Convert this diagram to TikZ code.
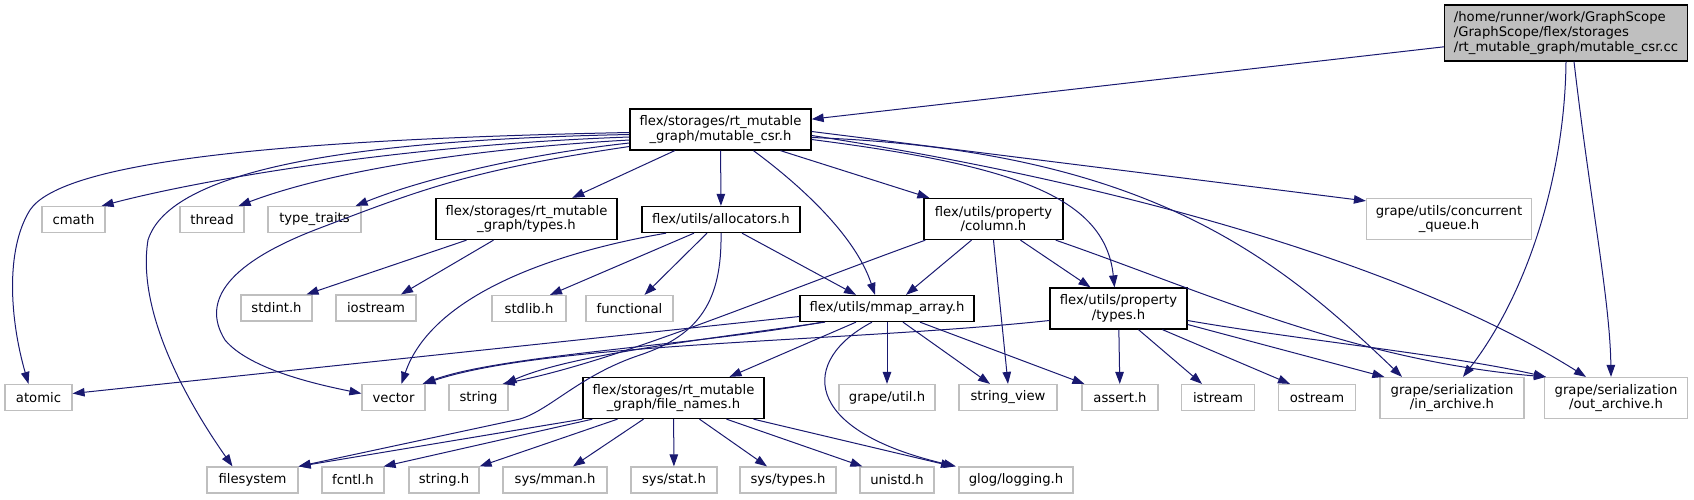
\documentclass[tikz,border=0pt]{standalone}
\usepackage{fontspec}
\setmainfont{DejaVu Sans}
\usepackage{tikz}
\usetikzlibrary{arrows.meta}
\usepackage{xcolor}
\definecolor{edgeblue}{RGB}{25,25,112}
\definecolor{grey75}{RGB}{191,191,191}

\begin{document}
\begin{tikzpicture}[x=1pt, y=-1pt, >={Triangle[length=12pt,width=8.5pt]},
  font=\fontsize{13.2}{14.7}\selectfont]
  \tikzstyle{hdr}=[rectangle, draw=black, line width=1.3pt, inner sep=2pt, align=center]
  \tikzstyle{sys}=[rectangle, draw=grey75, line width=1.2pt, inner sep=2pt, align=center]
  \tikzstyle{root}=[rectangle, draw=black, fill=grey75, line width=1.3pt, inner sep=2pt, align=left]
  \tikzstyle{dep}=[->, draw=edgeblue, line width=1pt]
  \useasboundingbox (0,0) rectangle (1694,499);

  % row 1
  \node[root, minimum width=243pt, minimum height=56pt] (cc) at (1566,33) {/home/runner/work/GraphScope\\/GraphScope/flex/storages\\/rt\_mutable\_graph/mutable\_csr.cc};
  \node[hdr, minimum width=181pt, minimum height=41pt] (csr) at (720.5,129.5) {flex/storages/rt\_mutable\\\_graph/mutable\_csr.h};
  % row 2
  \node[sys, minimum width=63pt, minimum height=26pt] (cmath) at (73.5,219.5) {cmath};
  \node[sys, minimum width=64pt, minimum height=26pt] (thread) at (212,219.5) {thread};
  \node[sys, minimum width=93pt, minimum height=26pt] (typetraits) at (314.5,219.5) {type\_traits};
  \node[hdr, minimum width=181pt, minimum height=41pt] (rtypes) at (526.5,219) {flex/storages/rt\_mutable\\\_graph/types.h};
  \node[hdr, minimum width=158pt, minimum height=26pt] (alloc) at (721,219.5) {flex/utils/allocators.h};
  \node[hdr, minimum width=139pt, minimum height=41pt] (column) at (993.5,219) {flex/utils/property\\/column.h};
  \node[sys, minimum width=165pt, minimum height=41pt] (cqueue) at (1449,219) {grape/utils/concurrent\\\_queue.h};
  % row 3
  \node[sys, minimum width=71pt, minimum height=26pt] (stdint) at (276.5,308) {stdint.h};
  \node[sys, minimum width=80pt, minimum height=26pt] (iostream) at (376,308) {iostream};
  \node[sys, minimum width=74pt, minimum height=26pt] (stdlib) at (529,308.5) {stdlib.h};
  \node[sys, minimum width=87pt, minimum height=26pt] (functional) at (629.5,308.5) {functional};
  \node[hdr, minimum width=174pt, minimum height=26pt] (mmap) at (887,308.5) {flex/utils/mmap\_array.h};
  \node[hdr, minimum width=137pt, minimum height=41pt] (ptypes) at (1118.5,308.5) {flex/utils/property\\/types.h};
  % row 4
  \node[sys, minimum width=67pt, minimum height=26pt] (atomic) at (38.5,397.5) {atomic};
  \node[sys, minimum width=63pt, minimum height=26pt] (vector) at (393.5,397.5) {vector};
  \node[sys, minimum width=59pt, minimum height=26pt] (string) at (478.5,397.5) {string};
  \node[hdr, minimum width=181pt, minimum height=41pt] (fnames) at (673.5,398) {flex/storages/rt\_mutable\\\_graph/file\_names.h};
  \node[sys, minimum width=96pt, minimum height=26pt] (gutil) at (887,397.5) {grape/util.h};
  \node[sys, minimum width=98pt, minimum height=26pt] (strview) at (1008,397.5) {string\_view};
  \node[sys, minimum width=76pt, minimum height=26pt] (assert) at (1120,397.5) {assert.h};
  \node[sys, minimum width=73pt, minimum height=26pt] (istream) at (1218,397.5) {istream};
  \node[sys, minimum width=77pt, minimum height=26pt] (ostream) at (1317,397.5) {ostream};
  \node[sys, minimum width=144pt, minimum height=41pt] (inarch) at (1452,398) {grape/serialization\\/in\_archive.h};
  \node[sys, minimum width=143pt, minimum height=41pt] (outarch) at (1616,398) {grape/serialization\\/out\_archive.h};
  % row 5
  \node[sys, minimum width=91pt, minimum height=26pt] (filesystem) at (252.5,480) {filesystem};
  \node[sys, minimum width=62pt, minimum height=26pt] (fcntl) at (353,480) {fcntl.h};
  \node[sys, minimum width=70pt, minimum height=26pt] (stringh) at (444,480) {string.h};
  \node[sys, minimum width=104pt, minimum height=26pt] (sysmman) at (555,480) {sys/mman.h};
  \node[sys, minimum width=86pt, minimum height=26pt] (sysstat) at (674,480) {sys/stat.h};
  \node[sys, minimum width=96pt, minimum height=26pt] (systypes) at (788,480) {sys/types.h};
  \node[sys, minimum width=74pt, minimum height=26pt] (unistd) at (897,480) {unistd.h};
  \node[sys, minimum width=114pt, minimum height=26pt] (glog) at (1016,480) {glog/logging.h};

  % mutable_csr.cc
  \draw[dep] (cc) -- (csr);
  \draw[dep] (cc.south) .. controls (1565,170) and (1530,290) .. ([xshift=11pt]inarch.north);
  \draw[dep] ([xshift=8pt]cc.south) .. controls (1590,200) and (1610,300) .. ([xshift=-5pt]outarch.north);

  % mutable_csr.h
  \draw[dep] ([yshift=-3pt]csr.west) .. controls (250,140) and (60,165) .. (30,210) .. controls (5,250) and (10,320) .. ([xshift=-10pt]atomic.north);
  \draw[dep] ([yshift=-5pt]csr.west) .. controls (350,140) and (170,170) .. (148,240) .. controls (135,320) and (200,420) .. ([xshift=-20pt]filesystem.north);
  \draw[dep] ([yshift=-7.5pt]csr.west) .. controls (400,145) and (200,180) .. ([xshift=-4pt]cmath.north east);
  \draw[dep] ([yshift=-10.5pt]csr.west) .. controls (450,150) and (320,175) .. ([xshift=-6pt]thread.north east);
  \draw[dep] ([yshift=-13.5pt]csr.west) .. controls (520,155) and (420,180) .. ([xshift=-6pt]typetraits.north east);
  \draw[dep] ([yshift=-17pt]csr.west) .. controls (470,170) and (420,190) .. (320,228) .. controls (230,262) and (200,300) .. (225,340) .. controls (250,370) and (320,385) .. ([yshift=4pt]vector.west);
  \draw[dep] (csr) -- (rtypes);
  \draw[dep] (csr) -- (alloc);
  \draw[dep] ([xshift=33pt]csr.south) .. controls (800,185) and (855,235) .. ([xshift=-12pt]mmap.north);
  \draw[dep] ([xshift=60pt]csr.south) -- ([xshift=6pt]column.north west);
  \draw[dep] ([yshift=-10pt]csr.east) .. controls (1010,165) and (1105,195) .. ([xshift=-4pt]ptypes.north);
  \draw[dep] ([yshift=-8pt]csr.east) .. controls (1150,150) and (1280,260) .. ([xshift=-50pt]inarch.north);
  \draw[dep] ([yshift=-6pt]csr.east) .. controls (1100,180) and (1400,260) .. ([xshift=-30pt]outarch.north);
  \draw[dep] ([yshift=-2pt]csr.east) -- ([yshift=-3pt]cqueue.north west);

  % rt_mutable_graph/types.h
  \draw[dep] ([xshift=-60pt]rtypes.south) -- ([xshift=30pt]stdint.north);
  \draw[dep] ([xshift=-33pt]rtypes.south) -- ([xshift=25pt]iostream.north);

  % allocators.h
  \draw[dep] ([xshift=-55pt]alloc.south) .. controls (540,255) and (430,300) .. ([xshift=8pt]vector.north);
  \draw[dep] ([xshift=-27pt]alloc.south) -- ([xshift=21pt]stdlib.north);
  \draw[dep] ([xshift=-14pt]alloc.south) -- ([xshift=15pt]functional.north);
  \draw[dep] (alloc.south) .. controls (722,300) and (700,335) .. (640,355) .. controls (580,375) and (550,410) .. (520,419) -- (filesystem.north east);
  \draw[dep] ([xshift=21pt]alloc.south) -- ([xshift=-31pt]mmap.north);

  % column.h
  \draw[dep] ([xshift=2pt]column.south west) .. controls (760,300) and (620,360) .. ([xshift=-6pt]string.north east);
  \draw[dep] ([xshift=-22pt]column.south) -- ([xshift=19pt]mmap.north);
  \draw[dep] (column.south) -- (strview.north);
  \draw[dep] ([xshift=27pt]column.south) -- ([xshift=-28pt]ptypes.north);
  \draw[dep] ([xshift=-8pt]column.south east) .. controls (1200,290) and (1350,360) .. ([xshift=2pt]outarch.north west);

  % mmap_array.h
  \draw[dep] ([yshift=-8pt]mmap.west) -- ([yshift=4pt]atomic.east);
  \draw[dep] ([xshift=-65pt]mmap.south) .. controls (700,345) and (500,355) .. ([xshift=-3pt]vector.north east);
  \draw[dep] ([xshift=-62pt]mmap.south) .. controls (700,340) and (570,355) .. ([xshift=-4pt]string.north east);
  \draw[dep] ([xshift=-31pt]mmap.south) -- ([xshift=56pt]fnames.north);
  \draw[dep] ([xshift=-15pt]mmap.south) .. controls (800,360) and (800,430) .. ([xshift=-60pt]glog.north);
  \draw[dep] (mmap) -- (gutil);
  \draw[dep] ([xshift=16pt]mmap.south) -- ([xshift=-18pt]strview.north);
  \draw[dep] ([xshift=33pt]mmap.south) -- ([xshift=3pt]assert.north west);

  % property/types.h
  \draw[dep] ([yshift=-12pt]ptypes.west) .. controls (850,342) and (550,342) .. ([xshift=-2pt]vector.north east);
  \draw[dep] (ptypes) -- (assert);
  \draw[dep] ([xshift=20pt]ptypes.south) -- ([xshift=-16pt]istream.north);
  \draw[dep] ([xshift=44pt]ptypes.south) -- ([xshift=-27pt]ostream.north);
  \draw[dep] ([yshift=-16pt]ptypes.east) -- ([xshift=5pt]inarch.north west);
  \draw[dep] ([yshift=-12pt]ptypes.east) .. controls (1300,340) and (1450,355) .. ([xshift=2pt]outarch.north west);

  % file_names.h
  \draw[dep] (fnames.south west) -- (filesystem.north east);
  \draw[dep] ([xshift=10pt]fnames.south west) -- ([xshift=-1pt]fcntl.north east);
  \draw[dep] ([xshift=-56pt]fnames.south) -- (stringh.north east);
  \draw[dep] ([xshift=-30pt]fnames.south) -- ([xshift=18pt]sysmman.north);
  \draw[dep] (fnames) -- (sysstat);
  \draw[dep] ([xshift=26pt]fnames.south) -- ([xshift=-21pt]systypes.north);
  \draw[dep] ([xshift=53pt]fnames.south) -- ([xshift=3pt]unistd.north west);
  \draw[dep] ([xshift=80pt]fnames.south) -- ([xshift=-63pt]glog.north);
\end{tikzpicture}
\end{document}
